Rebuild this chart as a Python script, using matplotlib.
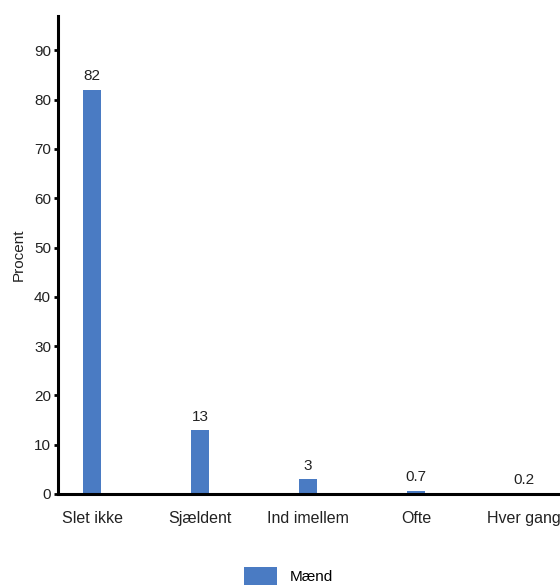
import matplotlib.pyplot as plt
import numpy as np

plt.rcParams['font.family'] = ['Liberation Sans', 'DejaVu Sans']

kategorier = ['Slet ikke', 'Sjældent', 'Ind imellem', 'Ofte', 'Hver gang']
maend = [82, 13, 3, 0.7, 0.2]
etiketter = ['82', '13', '3', '0.7', '0.2']

fig = plt.figure(figsize=(5.6, 5.86), dpi=100)
ax = fig.add_axes([0.1036, 0.157, 0.893, 0.816])

x = np.arange(len(kategorier))
bars = ax.bar(x, maend, width=0.167, color='#4a7bc3', label='Mænd')
for b, t in zip(bars, etiketter):
    ax.text(b.get_x() + b.get_width() / 2, b.get_height() + 1.3, t,
            ha='center', va='bottom', fontsize=11, color='#222222')

ax.set_xlim(-0.315, 4.315)
ax.set_ylim(0, 97)
ax.set_yticks(range(0, 91, 10))
ax.set_xticks(x)
ax.set_xticklabels(kategorier, fontsize=11.5, color='#222222')
ax.tick_params(axis='y', length=3, width=2, labelsize=11, labelcolor='#222222', pad=2)
ax.tick_params(axis='x', length=0, pad=12)
ax.set_ylabel('Procent', fontsize=11, color='#222222', labelpad=6)

for s in ['top', 'right']:
    ax.spines[s].set_visible(False)
for s in ['left', 'bottom']:
    ax.spines[s].set_linewidth(2.2)

fig.legend(loc='lower center', bbox_to_anchor=(0.515, -0.022), frameon=False,
           fontsize=11, handlelength=2.2, handleheight=1.4)

fig.savefig('out.png', dpi=100)
